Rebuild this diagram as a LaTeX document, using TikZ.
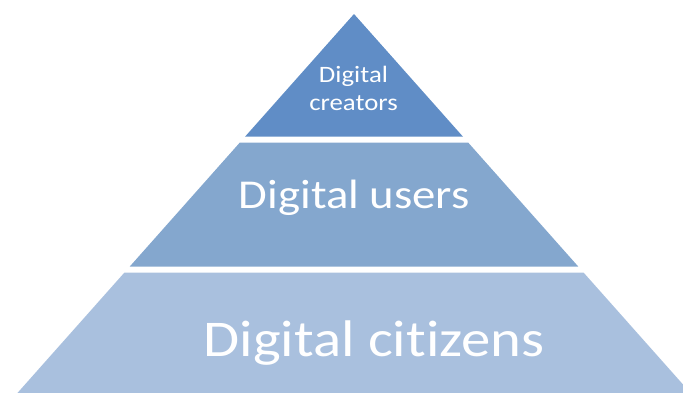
\documentclass[tikz,border=0pt]{standalone}
\usepackage{fontspec}
\newfontfamily\pyrfont[FakeStretch=1.14,Ligatures=NoCommon]{Carlito}
\definecolor{tierA}{RGB}{96,141,198}
\definecolor{tierB}{RGB}{132,167,206}
\definecolor{tierC}{RGB}{169,192,222}
\tikzset{
  tier/.style={draw=none},
  lbl/.style={text=white, anchor=base, inner sep=0pt, font=\pyrfont}
}
\begin{document}
\begin{tikzpicture}[x=1pt,y=-1pt]
\useasboundingbox (0,0) rectangle (683,392);
\clip (0,0) rectangle (683,392);
\fill[tierA] (354,14) -- (463.0,136.7) -- (245.0,136.7) -- cycle;
\fill[tierB] (239.7,142.7) -- (468.3,142.7) -- (578.4,266.7) -- (129.6,266.7) -- cycle;
\fill[tierC] (124.3,272.7) -- (583.7,272.7) -- (700.0,403.6) -- (8.0,403.6) -- cycle;
\node[lbl, font=\pyrfont\fontsize{23.5}{28}\selectfont] (t1) at (353.5,82) {Digital};
\node[lbl, font=\pyrfont\fontsize{23.5}{28}\selectfont] (t2) at (353.5,110.5) {creators};
\node[lbl, font=\pyrfont\fontsize{41}{48}\selectfont] (mid) at (354.3,208.5) {Digital users};
\node[lbl, font=\pyrfont\fontsize{51.5}{62}\selectfont] (bot) at (374.2,356) {Digital citizens};
\end{tikzpicture}
\end{document}
